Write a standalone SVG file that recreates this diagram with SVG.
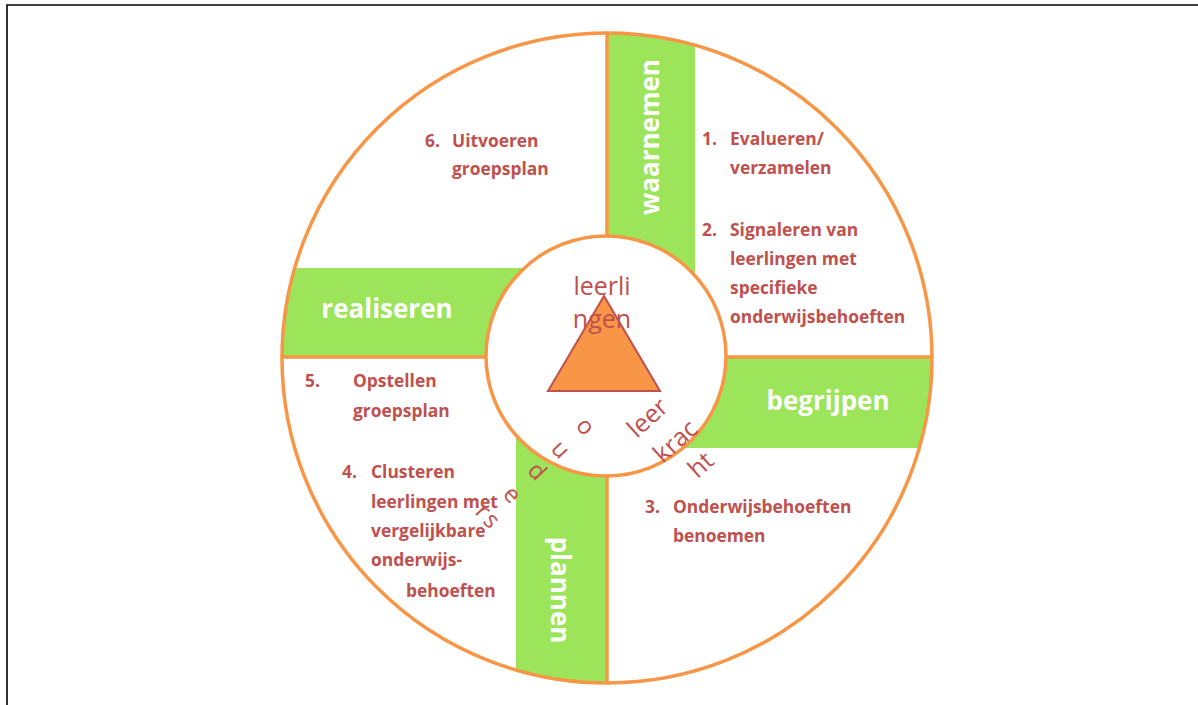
<svg xmlns="http://www.w3.org/2000/svg" width="1198" height="705" viewBox="0 0 1198 705">
<style>
.band{fill:#9CE45A}
.ol{stroke:#F79646;stroke-width:3.5;fill:none}
.lbl{font-family:"Open Sans","Liberation Sans",sans-serif;font-weight:700;font-size:26px;fill:#FFFFFF;text-anchor:middle}
.item{font-family:"Open Sans","Liberation Sans",sans-serif;font-weight:700;font-size:17.4px;fill:#C0504D}
.ctr{font-family:"Open Sans","Liberation Sans",sans-serif;font-size:25px;fill:#C0504D;text-anchor:middle}
.oud{font-family:"Open Sans","Liberation Sans",sans-serif;font-size:24px;fill:#C0504D;text-anchor:middle}
</style>
<defs>
<clipPath id="outerClip"><circle cx="607" cy="358" r="325"/></clipPath>
</defs>
<rect x="0" y="0" width="1198" height="705" fill="#FFFFFF"/>
<g id="frame" stroke="#000" stroke-width="1.6" fill="none">
<path d="M7 705 V5 H1198"/>
</g>
<g id="wheel">
<circle cx="607" cy="358" r="325" fill="#FFFFFF"/>
<g clip-path="url(#outerClip)">
<rect id="band-waarnemen" class="band" x="607" y="20" width="88" height="340"/>
<rect id="band-realiseren" class="band" x="270" y="268" width="340" height="89"/>
<rect id="band-begrijpen" class="band" x="606" y="357" width="340" height="91"/>
<rect id="band-plannen" class="band" x="516" y="356" width="90" height="340"/>
</g>
</g>
<g id="connectors">
<line class="ol" x1="607" y1="33" x2="607" y2="237"/>
<line class="ol" x1="607" y1="475" x2="607" y2="683"/>
<line class="ol" x1="282" y1="357" x2="487" y2="357"/>
<line class="ol" x1="725" y1="357" x2="932" y2="357"/>
<circle class="ol" cx="607" cy="358" r="325"/>
</g>
<g id="center">
<circle cx="606" cy="356" r="120" fill="#FFFFFF" stroke="#F79646" stroke-width="3.5"/>
<polygon points="604,296 548,391 660,391" fill="#F79646" stroke="#C0504D" stroke-width="2"/>
<text class="ctr" x="602" y="295">leerli</text>
<text class="ctr" x="602" y="328">ngen</text>
<g transform="translate(585,428) rotate(47)">
<text class="oud" x="-1" y="6.5">o</text>
<text class="oud" x="-1" y="40.5">u</text>
<text class="oud" x="-1" y="72.5">d</text>
<text class="oud" x="-1" y="106.5">e</text>
<text class="oud" x="-1" y="139" letter-spacing="2">rs</text>
</g>
<g transform="translate(647,417) rotate(-42)">
<text class="ctr" x="0" y="9.5">leer</text>
<text class="ctr" x="5" y="45.5">krac</text>
<text class="ctr" x="8" y="80">ht</text>
</g>
</g>
<g id="node-waarnemen">
<text class="lbl" transform="translate(659,137) rotate(-90)">waarnemen</text>
</g>
<g id="node-realiseren">
<text class="lbl" x="387" y="318">realiseren</text>
</g>
<g id="node-begrijpen">
<text class="lbl" x="828" y="410">begrijpen</text>
</g>
<g id="node-plannen">
<text class="lbl" transform="translate(551,590) rotate(90)">plannen</text>
</g>
<g id="item-1-2" class="item">
<text x="702" y="145">1.</text>
<text x="730" y="145">Evalueren/</text>
<text x="730" y="174">verzamelen</text>
<text x="702" y="236">2.</text>
<text x="730" y="236">Signaleren van</text>
<text x="730" y="265">leerlingen met</text>
<text x="730" y="294">specifieke</text>
<text x="730" y="323">onderwijsbehoeften</text>
</g>
<g id="item-3" class="item">
<text x="645" y="513">3.</text>
<text x="673" y="513">Onderwijsbehoeften</text>
<text x="673" y="542">benoemen</text>
</g>
<g id="item-4" class="item">
<text x="342" y="478">4.</text>
<text x="371" y="478">Clusteren</text>
<text x="371" y="508">leerlingen met</text>
<text x="371" y="537">vergelijkbare</text>
<text x="371" y="566">onderwijs-</text>
<text x="406" y="597">behoeften</text>
</g>
<g id="item-5" class="item">
<text x="305" y="387">5.</text>
<text x="353" y="387">Opstellen</text>
<text x="353" y="417">groepsplan</text>
</g>
<g id="item-6" class="item">
<text x="425" y="147">6.</text>
<text x="452" y="147">Uitvoeren</text>
<text x="452" y="175">groepsplan</text>
</g>
</svg>
